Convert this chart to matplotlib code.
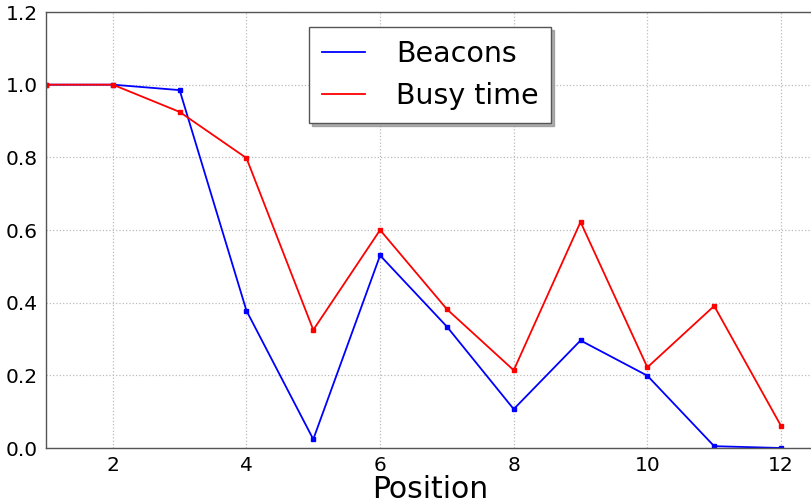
import matplotlib
matplotlib.use("Agg")
import matplotlib.pyplot as plt

positions = [1, 2, 3, 4, 5, 6, 7, 8, 9, 10, 11, 12]
beacons = [1.0, 1.0, 0.985, 0.378, 0.024, 0.53, 0.334, 0.107, 0.296, 0.199, 0.005, 0.0]
busy_time = [1.0, 1.0, 0.925, 0.798, 0.325, 0.6, 0.382, 0.214, 0.622, 0.222, 0.391, 0.061]
xticks = [2, 4, 6, 8, 10, 12]
yticks = [0.0, 0.2, 0.4, 0.6, 0.8, 1.0, 1.2]

fig = plt.figure(figsize=(8.11, 5.03), dpi=100)
ax = fig.add_axes([46/811, 55/503, (814.4-46)/811, (448-12)/503])

ax.plot(positions, beacons, color='blue', lw=1.3, marker='s', ms=3, mec='blue', label='Beacons')
ax.plot(positions, busy_time, color='red', lw=1.3, marker='s', ms=3, mec='red', label='Busy time')

ax.set_xlim(1, 12.5)
ax.set_ylim(0, 1.2)
ax.set_xticks(xticks)
ax.set_yticks(yticks)
ax.set_yticklabels([f"{v:.1f}" for v in yticks])
ax.tick_params(axis='both', length=0, labelsize=14.5, pad=6)
ax.grid(True, color='#bbbbbb', linestyle=':', linewidth=0.9)
for s in ax.spines.values():
    s.set_color('#555555')
    s.set_linewidth(1.0)

ax.set_xlabel('Position', fontsize=21.5, labelpad=0)

leg = ax.legend(loc='upper center', bbox_to_anchor=(0.5, 0.9656), fontsize=20.5,
                shadow={'color': '0.55', 'alpha': 0.7},
                fancybox=False, framealpha=1, handlelength=1.5, handletextpad=1.1,
                borderpad=0.45, labelspacing=0.5, borderaxespad=0)
leg.get_frame().set_edgecolor('#555555')
for h in leg.get_lines():
    h.set_marker('')

fig.savefig('out.png', dpi=100)
